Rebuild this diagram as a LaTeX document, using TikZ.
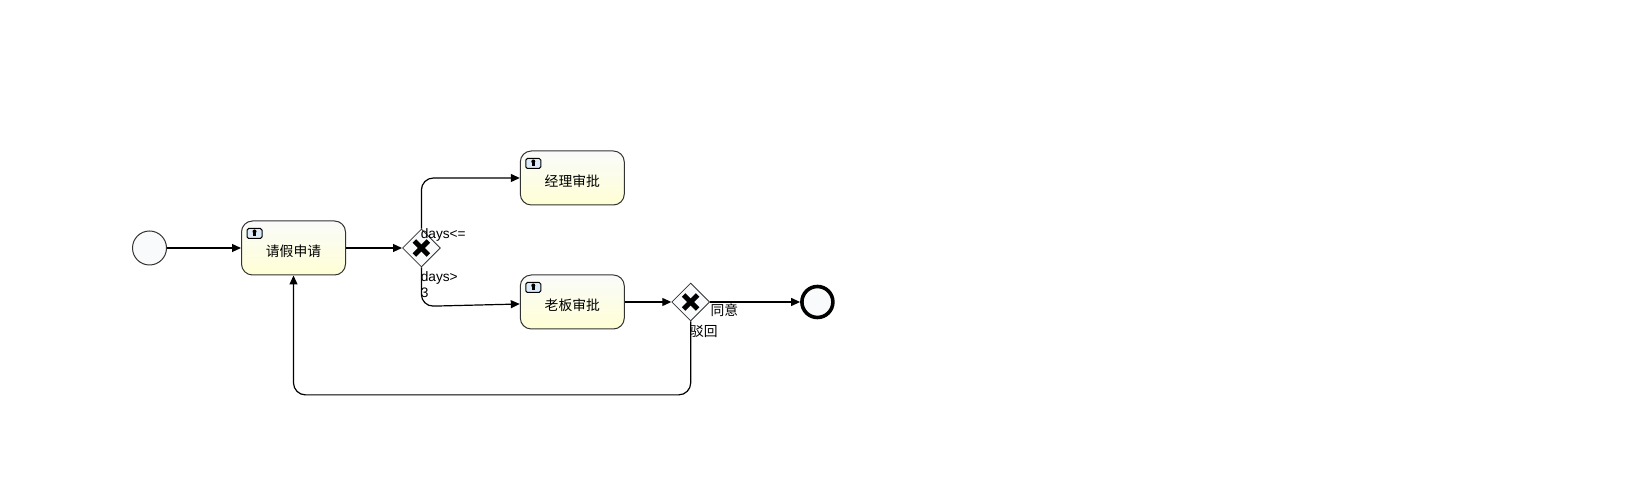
\documentclass[tikz,border=0pt]{standalone}
\usepackage{fontspec}
\setmainfont{Liberation Sans}
\newfontfamily\cjk{Noto Sans CJK SC}
\usetikzlibrary{arrows.meta,positioning,shapes.geometric}
\definecolor{evfill}{HTML}{F8FAFC}
\definecolor{taskline}{HTML}{333333}
\definecolor{tasktop}{HTML}{FAFBFA}
\definecolor{taskbot}{HTML}{FFFFD5}
\definecolor{iconfill}{HTML}{DCEBFA}

\begin{document}
\begin{tikzpicture}[
  x=0.5pt,y=-0.5pt,
  font=\fontsize{6.85}{8}\selectfont,
  task/.style={draw=taskline,line width=0.5pt,rounded corners=5.5pt,top color=tasktop,bottom color=taskbot,
               minimum width=52pt,minimum height=27pt,inner sep=0pt,text height=8.7pt,text depth=0pt,
               font=\fontsize{6.9}{8}\cjk},
  gate/.style={diamond,draw=taskline,line width=0.4pt,fill=evfill,minimum width=19pt,minimum height=19pt,inner sep=0pt,
               path picture={
                 \draw[black,line width=2.5pt] ([shift={(-7,-7)}]path picture bounding box.center) -- ++(14,14);
                 \draw[black,line width=2.5pt] ([shift={(-7,7)}]path picture bounding box.center) -- ++(14,-14);}},
  startev/.style={circle,draw=taskline,line width=0.5pt,fill=evfill,minimum size=17pt,inner sep=0pt},
  endev/.style={circle,draw=black,line width=1.8pt,fill=evfill,minimum size=15.5pt,inner sep=0pt},
  flow/.style={-{Triangle[length=4.5pt,width=4pt]},line width=0.6pt,rounded corners=6pt},
  lbl/.style={inner sep=0pt,align=left},
  lblcn/.style={inner sep=0pt,font=\fontsize{6.9}{8}\cjk}]

\useasboundingbox (0,0) rectangle (1648,501);

\node[startev] (start) at (149.5,248) {};
\node[task,right=37pt of start] (apply) {请假申请};
\node[gate,right=28pt of apply] (gate1) {};
\node[task,right=39.5pt of gate1,yshift=35pt] (mgr) {经理审批};
\node[task,below=34.5pt of mgr] (boss) {老板审批};
\node[gate,right=23.25pt of boss] (gate2) {};
\node[endev,right=45pt of gate2] (stop) {};

% the small marker in the corner of each task
\foreach \tsk in {apply,mgr,boss} {
  \begin{scope}[shift={(\tsk.north west)}]
    \draw[black,line width=0.5pt,fill=iconfill,rounded corners=0.8pt] (6,8) rectangle (21,18);
    \fill[black] (13.5,11) circle (1pt);
    \fill[black] (12,12.5) rectangle (15,16);
  \end{scope}
}

\draw[flow] (start) -- (apply);
\draw[flow] (apply) -- (gate1);
\draw[flow] (gate1.north) |- (mgr.west);
% ends a little under the middle of the box, as in the drawing
\draw[flow] (gate1.south) -- ++(0,39) -- ([yshift=-1pt]boss.west);
\draw[flow] (boss) -- (gate2);
\draw[flow] (gate2) -- (stop);
\draw[flow] (gate2.south) -- ++(0,73.5) -| (apply.south);

\node[lbl,right=-0.5pt of gate1.center,yshift=6.5pt] (lowdays) {days<=};
\node[lbl,right=-0.5pt of gate1.south,yshift=-8.5pt] (highdays) {days>\\3};
\node[lblcn,right=0pt of gate2.east,yshift=-4pt] (agree) {同意};
\node[lblcn,right=-0.5pt of gate2.south,yshift=-5pt] (reject) {驳回};
\end{tikzpicture}
\end{document}
